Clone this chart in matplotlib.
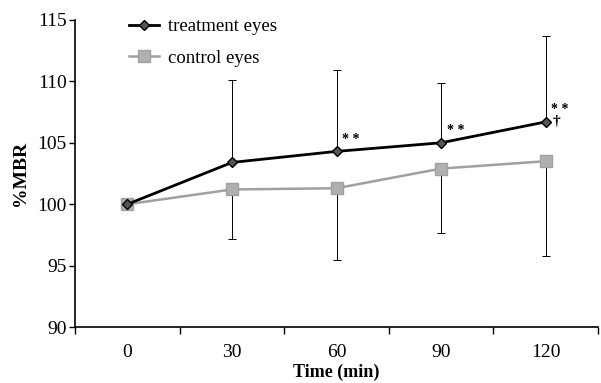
import matplotlib
matplotlib.use("Agg")
import matplotlib.pyplot as plt
from matplotlib.lines import Line2D
import numpy as np

plt.rcParams['font.family'] = ['Liberation Serif', 'DejaVu Serif']

categories = ["0", "30", "60", "90", "120"]
treatment = [100.0, 103.4, 104.3, 105.0, 106.7]
treatment_err_up = [0.0, 6.7, 6.6, 4.9, 7.0]
control = [100.0, 101.2, 101.3, 102.9, 103.5]
control_err_down = [0.0, 4.06, 5.84, 5.27, 7.72]
star_labels = ["", "", "* *", "* *", "* *"]
dagger_labels = ["", "", "", "", "†"]

fig = plt.figure(figsize=(6.01, 3.83), dpi=100)
ax = fig.add_axes([0.125, 0.146, 0.87, 0.802])
x = np.arange(len(categories))

ax.errorbar(x, control, yerr=[control_err_down, np.zeros(len(x))], color='#a0a0a0',
            ecolor='black', elinewidth=0.7, capsize=3, capthick=0.7,
            marker='s', markersize=9, markerfacecolor='#b0b0b0', markeredgecolor='#a0a0a0',
            linewidth=1.8, zorder=2)
ax.errorbar(x, treatment, yerr=[np.zeros(len(x)), treatment_err_up], color='black',
            ecolor='black', elinewidth=0.7, capsize=3, capthick=0.7,
            marker='D', markersize=5.5, markerfacecolor='#555555', markeredgecolor='black',
            linewidth=2, zorder=3)

for xi, yi, s in zip(x, treatment, star_labels):
    if s:
        ax.annotate(s, (xi, yi), xytext=(4, 4), textcoords='offset points',
                    fontsize=10, fontweight='bold', va='bottom', ha='left')
for xi, yi, s in zip(x, treatment, dagger_labels):
    if s:
        ax.annotate(s, (xi, yi), xytext=(5, 0), textcoords='offset points',
                    fontsize=11, fontweight='bold', va='center', ha='left')

ax.set_xlim(-0.5, 4.5)
ax.set_ylim(90, 115)
ax.set_yticks([90, 95, 100, 105, 110, 115])
ax.set_xticks(x)
ax.set_xticklabels(categories)
ax.set_xticks(np.arange(-0.5, 5.0, 1.0), minor=True)
ax.tick_params(axis='x', which='major', length=0, labelsize=14, pad=12)
ax.tick_params(axis='x', which='minor', length=5, width=1, direction='out')
ax.tick_params(axis='y', labelsize=14, length=4, width=1, direction='out', pad=2)
for s in ['top', 'right']:
    ax.spines[s].set_visible(False)
for s in ['left', 'bottom']:
    ax.spines[s].set_linewidth(1.2)

ax.set_xlabel('Time (min)', fontsize=13, fontweight='bold', labelpad=2)
ax.set_ylabel('%MBR', fontsize=14, fontweight='bold', labelpad=6)

h_t = Line2D([], [], color='black', linewidth=2, marker='D', markersize=5.5,
             markerfacecolor='#555555', markeredgecolor='black')
h_c = Line2D([], [], color='#a0a0a0', linewidth=1.8, marker='s', markersize=9,
             markerfacecolor='#b0b0b0', markeredgecolor='#a0a0a0')
ax.legend([h_t, h_c], ['treatment eyes', 'control eyes'], loc='upper left',
          bbox_to_anchor=(0.07, 1.06), frameon=False, fontsize=13.5,
          handlelength=1.6, handletextpad=0.5, labelspacing=0.75)

fig.savefig('out.png', dpi=100)
